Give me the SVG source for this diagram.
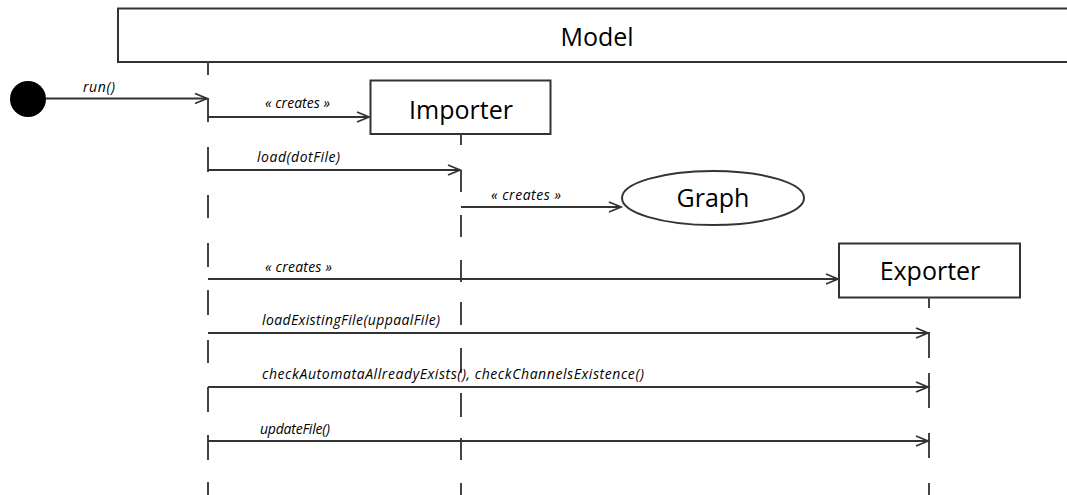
<svg xmlns="http://www.w3.org/2000/svg" width="1067" height="495" viewBox="0 0 1067 495">
<style>
.box{fill:#fff;stroke:#333;stroke-width:2}
.life{fill:none;stroke:#444;stroke-width:2}
.msg{fill:none;stroke:#333;stroke-width:1.8}
.name{font-family:"Open Sans","Noto Sans",sans-serif;font-size:25px;fill:#000;text-anchor:middle}
.lbl{font-family:"Open Sans","Noto Sans",sans-serif;font-size:14px;font-style:italic;fill:#000}
</style>
<defs>
<marker id="open" markerUnits="userSpaceOnUse" markerWidth="16" markerHeight="14" refX="13" refY="6" orient="auto">
<path d="M1,1 L13,6 L1,11" fill="none" stroke="#333" stroke-width="1.8"/>
</marker>
</defs>
<rect width="1067" height="495" fill="#fff"/>
<g id="model">
<rect class="box" x="118" y="8.5" width="960" height="53.5"/>
<text class="name" x="597" y="46">Model</text>
</g>
<g id="start">
<circle cx="28" cy="99" r="18" fill="#000"/>
</g>
<g id="importer">
<rect class="box" x="370.5" y="80.5" width="180" height="53.5"/>
<text class="name" x="461" y="119">Importer</text>
</g>
<g id="graph">
<ellipse cx="713" cy="198" rx="91" ry="27" fill="#fff" stroke="#333" stroke-width="2"/>
<text class="name" x="713" y="207">Graph</text>
</g>
<g id="exporter">
<rect class="box" x="839" y="243.5" width="181" height="54"/>
<text class="name" x="930" y="280">Exporter</text>
</g>
<g id="lifelines">
<path class="life" d="M208,62 V75 M208,98 V122 M208,147 V172 M208,195 V218 M208,243 V267 M208,290 V315 M208,340 V363 M208,387 V412 M208,435 V460 M208,482 V495"/>
<path class="life" d="M461,134 V145 M461,170 V192 M461,215 V237 M461,260 V282 M461,302 V325 M461,348 V373 M461,393 V417 M461,438 V460 M461,483 V495"/>
<path class="life" d="M929,297 V308 M929,332 V358 M929,373 V408 M929,433 V458 M929,483 V495"/>
</g>
<g id="connectors">
<line class="msg" x1="46" y1="98.5" x2="207" y2="98.5" marker-end="url(#open)"/>
<line class="msg" x1="208" y1="117" x2="369" y2="117" marker-end="url(#open)"/>
<line class="msg" x1="208" y1="170" x2="460" y2="170" marker-end="url(#open)"/>
<line class="msg" x1="461" y1="207" x2="621" y2="207" marker-end="url(#open)"/>
<line class="msg" x1="208" y1="279" x2="838" y2="279" marker-end="url(#open)"/>
<line class="msg" x1="208" y1="333" x2="928" y2="333" marker-end="url(#open)"/>
<line class="msg" x1="208" y1="387" x2="928" y2="387" marker-end="url(#open)"/>
<line class="msg" x1="208" y1="441" x2="928" y2="441" marker-end="url(#open)"/>
<text class="lbl" x="83" y="92" textLength="32">run()</text>
<text class="lbl" x="265" y="108" textLength="65">« creates »</text>
<text class="lbl" x="257" y="162" textLength="83">load(dotFile)</text>
<text class="lbl" x="491" y="200" textLength="70">« creates »</text>
<text class="lbl" x="265" y="272" textLength="67">« creates »</text>
<text class="lbl" x="262" y="325" textLength="178">loadExistingFile(uppaalFile)</text>
<text class="lbl" x="262" y="379" textLength="382">checkAutomataAllreadyExists(), checkChannelsExistence()</text>
<text class="lbl" x="260" y="434" textLength="70">updateFile()</text>
</g>
</svg>
